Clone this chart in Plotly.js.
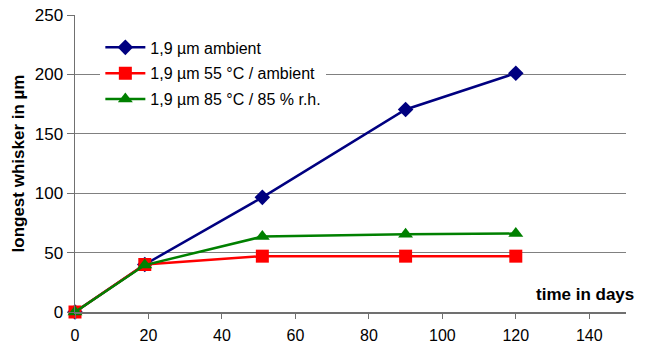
<!DOCTYPE html>
<html><head><meta charset="utf-8">
<script src="https://cdn.plot.ly/plotly-3.0.1.min.js"></script>
<style>html,body{margin:0;padding:0;background:#fff}</style>
</head><body><div id="chart" style="width:652px;height:347px"></div>
<script>
const days = [0, 19, 51, 90, 120];
const ambient = [0, 40, 96.5, 170.5, 201];
const c55 = [0, 40, 47, 47, 47];
const c85 = [0, 39.5, 63.5, 65.5, 66];
const names = ["1,9 µm ambient", "1,9 µm 55 °C / ambient", "1,9 µm 85 °C / 85 % r.h."];
const xTicks = [0, 20, 40, 60, 80, 100, 120, 140];
const yTicks = [0, 50, 100, 150, 200, 250];

const traces = [
  {x: days, y: ambient, name: names[0], legendgroup: 'a', mode: 'lines+markers', cliponaxis: false,
   line: {color: '#000080', width: 2.5}, marker: {symbol: 'diamond', size: 12, color: '#000080'}},
  {x: days, y: c55, name: names[1], legendgroup: 'b', mode: 'lines+markers', cliponaxis: false,
   line: {color: '#FF0000', width: 2.5}, marker: {symbol: 'square', size: 13, color: '#FF0000'}},
  {x: days, y: c85, name: names[2], legendgroup: 'c', mode: 'lines+markers', cliponaxis: false,
   line: {color: '#008000', width: 2.5}, marker: {symbol: 'triangle-up', size: 13, color: '#008000'}}
];
const layout = {
  width: 652, height: 347,
  margin: {l: 75, r: 26, t: 15, b: 35},
  paper_bgcolor: '#fff', plot_bgcolor: '#fff',
  font: {family: 'Arial, Liberation Sans, sans-serif', size: 16, color: '#000'},
  showlegend: true,
  legend: {x: 0.046, y: 0.948, xanchor: 'left', yanchor: 'top', bgcolor: '#fff',
    traceorder: 'grouped', tracegroupgap: 2, itemwidth: 40, font: {size: 16}},
  xaxis: {range: [0, 150], tickvals: xTicks, ticks: 'outside', ticklen: 5, tickcolor: '#707070',
    showline: true, linecolor: '#707070', linewidth: 1.5, showgrid: false, zeroline: false,
    ticklabelstandoff: 3, tickfont: {size: 16}},
  yaxis: {range: [0, 250], tickvals: yTicks, ticks: 'outside', ticklen: 7, tickcolor: '#707070',
    showline: true, linecolor: '#707070', linewidth: 1.5, showgrid: true, gridcolor: '#808080', gridwidth: 1.2,
    zeroline: false, tickfont: {size: 17},
    title: {text: 'longest whisker in µm', font: {size: 17, weight: 'bold'}, standoff: 6}},
  annotations: [{text: '<b>time in days</b>', xref: 'paper', yref: 'paper', x: 1.018, y: 0.0606,
    xanchor: 'right', yanchor: 'middle', showarrow: false, font: {size: 17}}]
};
Plotly.newPlot('chart', traces, layout, {displayModeBar: false, staticPlot: true});
</script></body></html>
